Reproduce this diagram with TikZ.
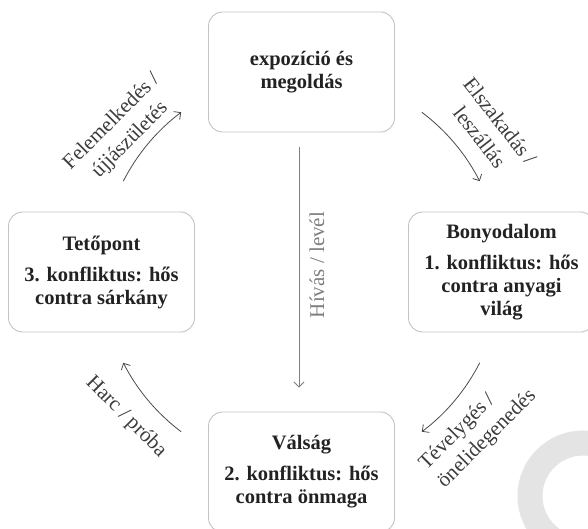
\documentclass[tikz,border=0pt]{standalone}
\usepackage{fontspec}
\setmainfont{Liberation Serif}
\usetikzlibrary{arrows.meta,calc}
\definecolor{boxline}{HTML}{C4C4C4}
\definecolor{txt}{HTML}{222222}
\definecolor{lbl}{HTML}{3C3C3C}
\definecolor{arrc}{HTML}{4A4A4A}
\definecolor{vgray}{HTML}{7E7E7E}
\definecolor{blob}{HTML}{E4E4E4}
\begin{document}
\begin{tikzpicture}[x=1pt,y=1pt,
  stage/.style={draw=boxline, line width=0.9pt, rounded corners=14pt, fill=white,
    minimum width=186pt, minimum height=120pt, align=center, text=txt,
    font=\bfseries\fontsize{20.5}{23}\selectfont, inner sep=0pt},
  lab/.style={text=lbl, font=\fontsize{21}{26}\selectfont, align=center, inner sep=0pt},
  arr/.style={draw=arrc, line width=0.8pt, -{Straight Barb[length=5pt,width=10pt]}},
  varr/.style={draw=vgray, line width=0.8pt, -{Straight Barb[length=5pt,width=10pt]}},
]
\useasboundingbox (0,0) rectangle (588,528);
\clip (0,0) rectangle (588,528);
\draw[blob, line width=25pt] (583,32) circle[radius=53pt];
\coordinate (C) at (301.5,256);
\node[stage] (top) at (301.5,456) {expozíció és\\megoldás};
\node[stage] (right) at (501.5,256) {Bonyodalom\\[8pt]1. konfliktus: hős\\contra anyagi\\világ};
\node[stage] (left) at (101.5,256) {Tetőpont\\[8pt]3. konfliktus: hős\\contra sárkány};
\node[stage] (bot) at (301.5,56) {Válság\\[8pt]2. konfliktus: hős\\contra önmaga};
% curved arrows
\coordinate (a1) at ($(C)+(53:200pt)$);
\coordinate (a2) at ($(C)+(-27:200pt)$);
\coordinate (a3) at ($(C)+(233:200pt)$);
\coordinate (a4) at ($(C)+(153:200pt)$);
\draw[arr] (a1) arc[start angle=53, end angle=27, radius=200pt];
\draw[arr] (a2) arc[start angle=-27, end angle=-53, radius=200pt];
\draw[arr] (a3) arc[start angle=233, end angle=207, radius=200pt];
\draw[arr] (a4) arc[start angle=153, end angle=127, radius=200pt];
% vertical arrow
\draw[varr, shorten <=15pt, shorten >=24pt] ([xshift=-2.5pt]top.south) -- ([xshift=-2.5pt]bot.north);
% labels
\node[lab, text=vgray, rotate=90] (hivas) at (317,263) {Hívás / levél};
\node[lab, rotate=-52] (elsz) at (490,399) {Elszakadás /\\leszállás};
\node[lab, rotate=45] (felem) at (121,397) {Felemelkedés /\\újjászületés};
\node[lab, rotate=-45] (harc) at (126,111) {Harc / próba};
\node[lab, rotate=45, align=left] (tev) at (478,98) {Tévelygés /\\önelidegenedés};
\end{tikzpicture}
\end{document}
